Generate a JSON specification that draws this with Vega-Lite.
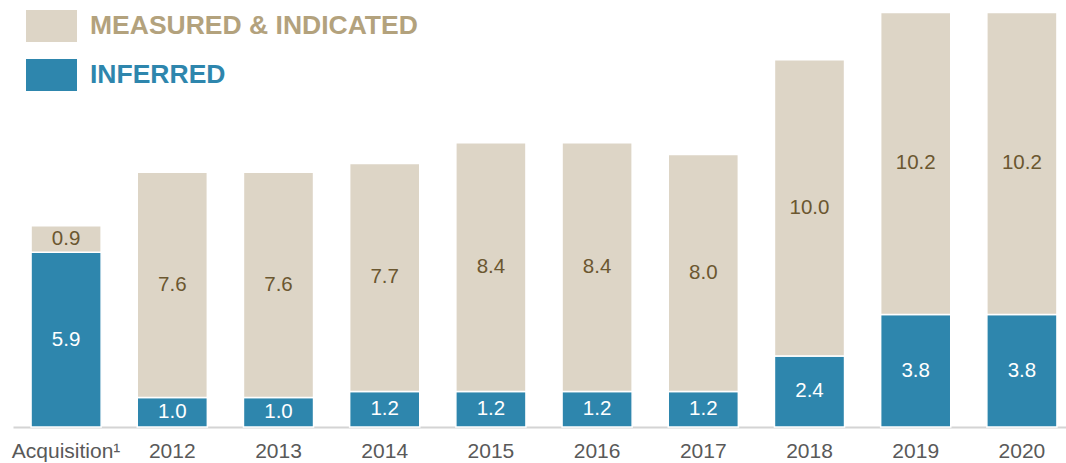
{
  "$schema": "https://vega.github.io/schema/vega-lite/v6.json",
  "width": 1066,
  "height": 427,
  "autosize": {"type": "none"},
  "padding": {"left": 0, "top": 0, "right": 0, "bottom": 36},
  "background": "white",
  "data": {
    "values": [
      {"cat": "Acquisition¹", "series": "INFERRED", "value": 5.9},
      {"cat": "Acquisition¹", "series": "MEASURED & INDICATED", "value": 0.9},
      {"cat": "2012", "series": "INFERRED", "value": 1.0},
      {"cat": "2012", "series": "MEASURED & INDICATED", "value": 7.6},
      {"cat": "2013", "series": "INFERRED", "value": 1.0},
      {"cat": "2013", "series": "MEASURED & INDICATED", "value": 7.6},
      {"cat": "2014", "series": "INFERRED", "value": 1.2},
      {"cat": "2014", "series": "MEASURED & INDICATED", "value": 7.7},
      {"cat": "2015", "series": "INFERRED", "value": 1.2},
      {"cat": "2015", "series": "MEASURED & INDICATED", "value": 8.4},
      {"cat": "2016", "series": "INFERRED", "value": 1.2},
      {"cat": "2016", "series": "MEASURED & INDICATED", "value": 8.4},
      {"cat": "2017", "series": "INFERRED", "value": 1.2},
      {"cat": "2017", "series": "MEASURED & INDICATED", "value": 8.0},
      {"cat": "2018", "series": "INFERRED", "value": 2.4},
      {"cat": "2018", "series": "MEASURED & INDICATED", "value": 10.0},
      {"cat": "2019", "series": "INFERRED", "value": 3.8},
      {"cat": "2019", "series": "MEASURED & INDICATED", "value": 10.2},
      {"cat": "2020", "series": "INFERRED", "value": 3.8},
      {"cat": "2020", "series": "MEASURED & INDICATED", "value": 10.2}
    ]
  },
  "transform": [
    {"stack": "value", "groupby": ["cat"], "sort": [{"field": "series", "order": "ascending"}], "as": ["v0", "v1"]},
    {"calculate": "(datum.v0 + datum.v1) / 2", "as": "mid"}
  ],
  "encoding": {
    "x": {
      "field": "cat",
      "type": "nominal",
      "sort": null,
      "scale": {"range": [13, 1075], "paddingInner": 0.34, "paddingOuter": 0.17},
      "axis": {
        "title": null,
        "labelAngle": 0,
        "ticks": false,
        "labelPadding": 13,
        "labelFont": "Liberation Sans",
        "labelFontSize": 21,
        "labelColor": "#595959",
        "domainColor": "#d4d4d4",
        "domainWidth": 2
      }
    }
  },
  "layer": [
    {
      "mark": {"type": "bar", "stroke": "white", "strokeWidth": 1.5},
      "encoding": {
        "y": {"field": "v0", "type": "quantitative", "scale": {"domain": [0, 14.42], "nice": false, "zero": true}, "axis": null},
        "y2": {"field": "v1"},
        "color": {
          "field": "series",
          "type": "nominal",
          "scale": {"domain": ["MEASURED & INDICATED", "INFERRED"], "range": ["#ddd5c6", "#2e86ad"]},
          "legend": {
            "title": null,
            "orient": "none",
            "legendX": 26,
            "legendY": 0.5,
            "padding": 0,
            "symbolType": "M-1,-0.627H1V0.627H-1Z",
            "symbolSize": 2601,
            "symbolStrokeWidth": 0,
            "symbolOpacity": 1,
            "rowPadding": 7,
            "labelOffset": 13,
            "labelFont": "Liberation Sans",
            "labelFontWeight": "bold",
            "labelFontSize": 26.5,
            "labelLimit": 600,
            "labelColor": {"expr": "datum.value === 'INFERRED' ? '#2e86ad' : '#b3a27d'"}
          }
        }
      }
    },
    {
      "mark": {"type": "text", "font": "Liberation Sans", "fontSize": 20.5, "baseline": "middle", "align": "center"},
      "encoding": {
        "y": {"field": "mid", "type": "quantitative"},
        "text": {"field": "value", "type": "quantitative", "format": ".1f"},
        "color": {
          "condition": {"test": "datum.series === 'INFERRED'", "value": "#ffffff"},
          "value": "#6b5730"
        }
      }
    }
  ],
  "config": {"view": {"stroke": null}}
}
